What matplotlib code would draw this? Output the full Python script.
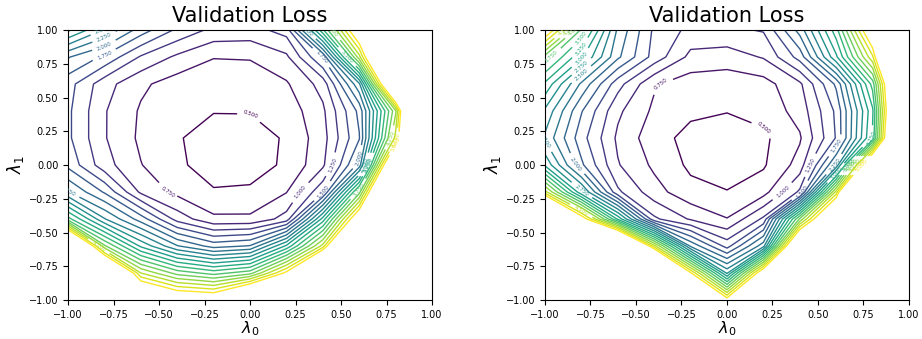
import matplotlib
matplotlib.use("Agg")
import matplotlib.pyplot as plt

# grid of the two hyper-parameters
lam0 = [-1.0, -0.8, -0.6, -0.4, -0.2, 0.0, 0.2, 0.4, 0.6, 0.8, 1.0]
lam1 = [-1.0, -0.8, -0.6, -0.4, -0.2, 0.0, 0.2, 0.4, 0.6, 0.8, 1.0]

levels = [0.5, 0.75, 1.0, 1.25, 1.5, 1.75, 2.0, 2.25, 2.5, 2.75,
          3.0, 3.25, 3.5, 3.75, 4.0, 4.25, 4.5, 4.75, 5.0]
ticks = [-1.0, -0.75, -0.5, -0.25, 0.0, 0.25, 0.5, 0.75, 1.0]

# validation loss, left run (rows: lam1 = -1.0 ... 1.0, cols: lam0 = -1.0 ... 1.0)
loss_left = [
    [13, 10, 6.2, 5.6, 5.5, 6.65, 8, 10, 12, 14, 16],
    [10, 6.9, 4.5, 3.9, 3.65, 3.9, 5.1, 7.5, 10, 12, 14],
    [7.1, 4.05, 2.95, 2.27, 1.9, 2.02, 3.05, 4.6, 8, 11, 13],
    [3.6, 2.52, 1.88, 1.15, 0.8, 0.8, 1.1, 3.1, 5.6, 9, 12],
    [2.27, 1.72, 0.95, 0.68, 0.52, 0.53, 0.74, 1.45, 3.9, 8, 12],
    [1.68, 1.1, 0.76, 0.54, 0.4, 0.42, 0.53, 0.95, 2.1, 6.4, 11],
    [1.55, 1.02, 0.7, 0.52, 0.4, 0.42, 0.52, 0.9, 1.73, 4.6, 9.5],
    [1.55, 1.02, 0.72, 0.56, 0.51, 0.51, 0.6, 0.95, 1.82, 4.2, 10],
    [1.6, 1.1, 0.8, 0.63, 0.6, 0.6, 0.72, 1.1, 2.45, 6.7, 10],
    [2.02, 1.7, 1.22, 0.95, 0.76, 0.77, 0.95, 1.77, 4.4, 8, 11],
    [3.05, 2.47, 1.88, 1.45, 1.18, 1.15, 1.35, 3.45, 5.6, 8.5, 11],
]

# validation loss, right run
loss_right = [
    [17, 15, 13, 11, 9, 5.2, 9, 12, 14, 16, 19],
    [14, 12, 10, 8.5, 5.05, 2.7, 5.5, 9, 12, 14, 17],
    [11, 9, 7.5, 4.6, 2.2, 1.4, 2.4, 6.5, 9, 12, 15],
    [8, 5.3, 3.2, 1.3, 0.97, 0.76, 1.3, 4.05, 6.5, 10, 13],
    [4.6, 2.8, 1.3, 0.85, 0.58, 0.51, 0.65, 1.3, 4.6, 9.9, 12],
    [2.95, 1.8, 1.02, 0.7, 0.45, 0.38, 0.47, 0.85, 2.3, 6.2, 10],
    [2.45, 1.6, 0.95, 0.6, 0.42, 0.37, 0.45, 0.72, 1.52, 3.3, 8.5],
    [2.7, 1.77, 1.05, 0.7, 0.55, 0.51, 0.58, 0.85, 1.55, 3.2, 8],
    [3.2, 2.2, 1.35, 0.78, 0.62, 0.6, 0.65, 0.95, 1.8, 3.6, 7.9],
    [3.9, 3.05, 2.05, 1.4, 0.93, 0.88, 1.02, 1.6, 2.95, 4.7, 9],
    [5.4, 3.7, 2.2, 1.45, 1.18, 1.2, 1.27, 2.1, 3.4, 5.6, 10],
]

fig = plt.figure(figsize=(9.22, 3.39), dpi=100)
ax1 = fig.add_axes([0.0738, 0.115, 0.3948, 0.7965])
ax2 = fig.add_axes([0.5911, 0.115, 0.3948, 0.7965])

for ax, loss in ((ax1, loss_left), (ax2, loss_right)):
    cs = ax.contour(lam0, lam1, loss, levels=levels, cmap="viridis", linewidths=1.0)
    ax.clabel(cs, fontsize=4, inline=True, fmt="%.3f")
    ax.set_title("Validation Loss", fontsize=15)
    ax.set_xlabel(r"$\lambda_0$", fontsize=11.5, labelpad=0)
    ax.set_ylabel(r"$\lambda_1$", fontsize=12, labelpad=2)
    ax.set_xlim(-1, 1)
    ax.set_ylim(-1, 1)
    ax.set_xticks(ticks)
    ax.set_yticks(ticks)
    ax.tick_params(labelsize=7)

fig.savefig("out.png", dpi=100)
